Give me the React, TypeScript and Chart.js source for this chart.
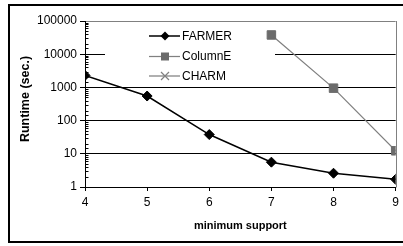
import { useEffect, useRef } from 'react';
import { Chart, registerables } from 'chart.js';

Chart.register(...registerables);

const FONT = "'Liberation Sans', Arial, sans-serif";

const minSupport = [4, 5, 6, 7, 8, 9];
const farmer = [2300, 550, 38, 5.6, 2.6, 1.7];
const columnE: (number | null)[] = [null, null, null, 38000, 950, 12.3];
const charm: (number | null)[] = [null, null, null, null, null, null];
const seriesNames = ['FARMER', 'ColumnE', 'CHARM'];
const yTickLabels = ['1', '10', '100', '1000', '10000', '100000'];
const xTitle = 'minimum support';
const yTitle = 'Runtime (sec.)';

const isPow10 = (v: number) => {
  const l = Math.log10(v);
  return Math.abs(l - Math.round(l)) < 1e-9;
};

const toPoints = (vals: (number | null)[]) =>
  minSupport.map((x, i) => ({ x, y: vals[i] as any }));

function drawMarker(ctx: CanvasRenderingContext2D, style: string, x: number, y: number, color: string) {
  ctx.save();
  ctx.fillStyle = color;
  ctx.strokeStyle = color;
  ctx.lineWidth = 1;
  ctx.beginPath();
  if (style === 'rectRot') {
    const r = 4.5;
    ctx.moveTo(x, y - r);
    ctx.lineTo(x + r, y);
    ctx.lineTo(x, y + r);
    ctx.lineTo(x - r, y);
    ctx.closePath();
    ctx.fill();
  } else if (style === 'rect') {
    const r = 4;
    ctx.rect(x - r, y - r, 2 * r, 2 * r);
    ctx.fill();
  } else if (style === 'crossRot') {
    const r = 4;
    ctx.lineWidth = 1.2;
    ctx.moveTo(x - r, y - r);
    ctx.lineTo(x + r, y + r);
    ctx.moveTo(x + r, y - r);
    ctx.lineTo(x - r, y + r);
    ctx.stroke();
  }
  ctx.restore();
}

const decorPlugin = {
  id: 'decor',
  beforeDraw(chart: any) {
    const ctx = chart.ctx as CanvasRenderingContext2D;
    ctx.save();
    ctx.fillStyle = '#fff';
    ctx.fillRect(0, 0, chart.width, chart.height);
    ctx.strokeStyle = '#000';
    ctx.lineWidth = 2;
    ctx.strokeRect(9, 5, chart.width + 20, 237);
    ctx.restore();
  },
  beforeDatasetsDraw(chart: any) {
    const ctx = chart.ctx as CanvasRenderingContext2D;
    const { left, right, top, bottom } = chart.chartArea;
    const yScale = chart.scales.y;
    ctx.save();
    // right plot border
    ctx.strokeStyle = '#808080';
    ctx.lineWidth = 1;
    ctx.beginPath();
    ctx.moveTo(Math.round(right) + 0.5, Math.round(top));
    ctx.lineTo(Math.round(right) + 0.5, Math.round(bottom) + 0.5);
    ctx.stroke();
    // minor ticks on y axis
    ctx.strokeStyle = '#000';
    ctx.beginPath();
    yScale.ticks.forEach((t: any) => {
      if (isPow10(t.value)) return;
      const py = Math.round(yScale.getPixelForValue(t.value)) + 0.5;
      ctx.moveTo(left, py);
      ctx.lineTo(left + 3.5, py);
    });
    ctx.stroke();
    // legend
    ctx.fillStyle = '#fff';
    ctx.fillRect(105, 24, 170, 60);
    const rows = [36, 56.5, 76];
    chart.data.datasets.forEach((ds: any, i: number) => {
      const y = rows[i];
      ctx.strokeStyle = ds.borderColor;
      ctx.lineWidth = ds.borderWidth;
      ctx.beginPath();
      ctx.moveTo(149, y);
      ctx.lineTo(180, y);
      ctx.stroke();
      drawMarker(ctx, ds.pointStyle, 165, y, ds.pointBackgroundColor);
      ctx.fillStyle = '#000';
      ctx.font = `12px ${FONT}`;
      ctx.textBaseline = 'middle';
      ctx.textAlign = 'left';
      ctx.fillText(ds.label, 182, y + 0.5);
    });
    ctx.restore();
  },
  afterDraw(chart: any) {
    const ctx = chart.ctx as CanvasRenderingContext2D;
    ctx.save();
    ctx.translate(26, 99);
    ctx.rotate(-Math.PI / 2);
    ctx.fillStyle = '#000';
    ctx.font = `bold 12.5px ${FONT}`;
    ctx.textAlign = 'center';
    ctx.textBaseline = 'middle';
    ctx.fillText(yTitle, 0, 0);
    ctx.restore();
  },
};

export default function App() {
  const ref = useRef<HTMLCanvasElement>(null);
  useEffect(() => {
    document.body.style.margin = '0';
    const canvas = ref.current!;
    const chart = new Chart(canvas, {
      type: 'line',
      data: {
        datasets: [
          {
            label: seriesNames[0],
            data: toPoints(farmer),
            borderColor: '#000',
            borderWidth: 1.5,
            pointStyle: 'rectRot',
            pointRadius: 5,
            pointBackgroundColor: '#000',
            pointBorderColor: '#000',
            pointBorderWidth: 1,
          },
          {
            label: seriesNames[1],
            data: toPoints(columnE),
            borderColor: '#808080',
            borderWidth: 1.25,
            pointStyle: 'rect',
            pointRadius: 6,
            pointBackgroundColor: '#6b6b6b',
            pointBorderColor: '#6b6b6b',
            pointBorderWidth: 1,
          },
          {
            label: seriesNames[2],
            data: toPoints(charm),
            borderColor: '#808080',
            borderWidth: 1.25,
            pointStyle: 'crossRot',
            pointRadius: 5,
            pointBackgroundColor: '#808080',
            pointBorderColor: '#808080',
          },
        ] as any,
      },
      options: {
        animation: false,
        responsive: false,
        layout: { padding: { top: 21, right: 6, left: 0, bottom: 0 } },
        plugins: { legend: { display: false }, tooltip: { enabled: false } },
        scales: {
          x: {
            type: 'linear',
            min: 4,
            max: 9,
            ticks: { stepSize: 1, color: '#000', font: { family: FONT, size: 12 }, padding: 4 },
            grid: { drawOnChartArea: false, drawTicks: true, tickLength: 4, color: '#000' },
            border: { color: '#000', width: 1 },
            title: {
              display: true,
              text: xTitle,
              color: '#000',
              font: { family: FONT, size: 11, weight: 'bold' },
              padding: { top: 0, bottom: 13 },
            },
            afterFit: (s: any) => {
              s.height = 59;
            },
          },
          y: {
            type: 'logarithmic',
            min: 1,
            max: 100000,
            ticks: {
              autoSkip: false,
              color: '#000',
              font: { family: FONT, size: 12 },
              padding: 3,
              callback: (v: any) => (isPow10(Number(v)) ? yTickLabels[Math.round(Math.log10(Number(v)))] : ''),
            },
            grid: {
              drawTicks: true,
              tickLength: 5,
              color: (c: any) => {
                const v = c.tick?.value;
                if (v === undefined || !isPow10(v)) return 'rgba(0,0,0,0)';
                return v >= 100000 ? '#808080' : '#000';
              },
              tickColor: (c: any) => {
                const v = c.tick?.value;
                return v !== undefined && isPow10(v) ? '#000' : 'rgba(0,0,0,0)';
              },
            },
            border: { color: '#000', width: 1 },
            afterFit: (s: any) => {
              s.width = 85;
            },
          },
        },
      } as any,
      plugins: [decorPlugin],
    });
    return () => chart.destroy();
  }, []);
  return <canvas ref={ref} width={403} height={246} style={{ display: 'block' }} />;
}
